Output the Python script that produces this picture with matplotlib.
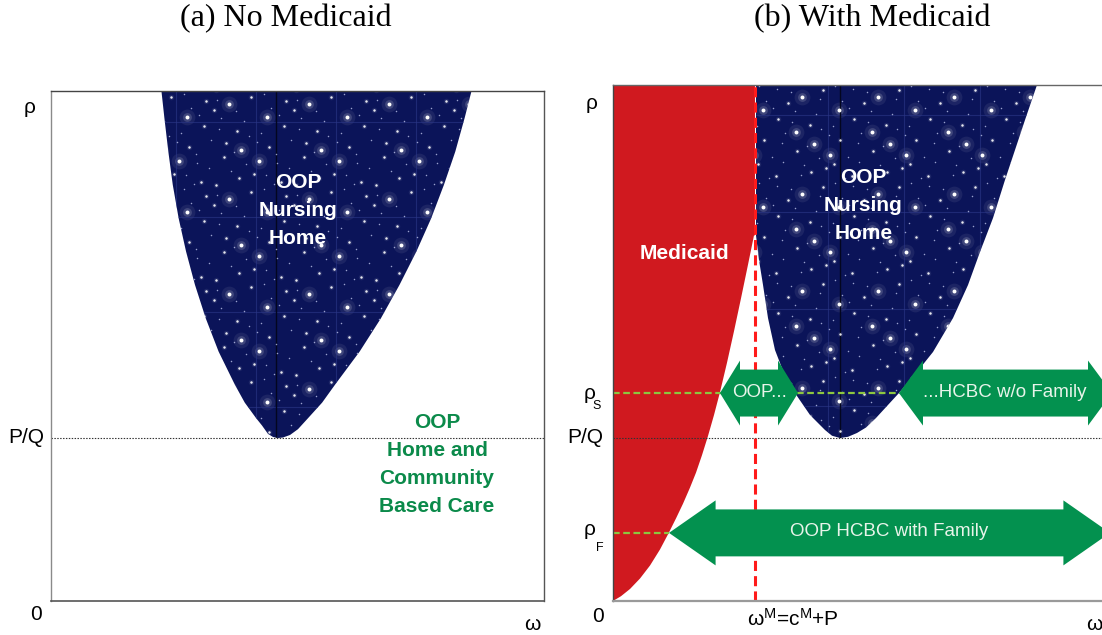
import numpy as np
import matplotlib
matplotlib.use("Agg")
import matplotlib.pyplot as plt
from matplotlib.patches import Polygon

plt.rcParams['font.family'] = ['Liberation Sans', 'DejaVu Sans']
plt.rcParams['mathtext.fontset'] = 'custom'
plt.rcParams['mathtext.rm'] = 'Liberation Sans'
plt.rcParams['mathtext.it'] = 'Liberation Sans:italic'
plt.rcParams['mathtext.bf'] = 'Liberation Sans:bold'

# ---------------------------------------------------------------- data
titles = ["(a) No Medicaid", "(b) With Medicaid"]

# Panel (a): boundary of the out-of-pocket nursing-home region (omega, rho)
nh_a_left_x = [0.224, 0.230, 0.238, 0.247, 0.259, 0.274, 0.292, 0.314, 0.340,
               0.373, 0.393, 0.4158, 0.4280, 0.4402, 0.4503, 0.4604]
nh_a_left_y = [1.000, 0.947, 0.881, 0.816, 0.750, 0.685, 0.620, 0.554, 0.489,
               0.424, 0.389, 0.3588, 0.3441, 0.3276, 0.3216, 0.3196]
nh_a_right_x = [0.4706, 0.4848, 0.5010, 0.5213, 0.550, 0.576, 0.626, 0.669, 0.707,
                0.741, 0.771, 0.797, 0.820, 0.839, 0.853]
nh_a_right_y = [0.3206, 0.3255, 0.3369, 0.3584, 0.389, 0.424, 0.489, 0.554, 0.620,
                0.685, 0.750, 0.816, 0.881, 0.947, 1.000]
pq_a = 0.32

# Panel (b)
omega_M = 0.288
pq_b = 0.316
rho_S = 0.403
rho_F = 0.132
med_x = [0.0, 0.0162, 0.0345, 0.0548, 0.0751, 0.0953, 0.1136, 0.1278, 0.1420,
         0.1562, 0.1684, 0.1805, 0.1927, 0.2049, 0.2170, 0.2312, 0.2454, 0.2596,
         0.2738, 0.2860]
med_y = [0.0, 0.0093, 0.0233, 0.0436, 0.0688, 0.0998, 0.1329, 0.1601, 0.1886,
         0.2198, 0.2488, 0.2826, 0.3198, 0.3605, 0.4047, 0.4616, 0.5227, 0.5864,
         0.6516, 0.7085]
nh_b_left_x = [0.2901, 0.2901, 0.2961, 0.3043, 0.3144, 0.3286, 0.3489, 0.3732,
               0.3996, 0.4300, 0.4442, 0.4604]
nh_b_left_y = [1.0, 0.7085, 0.6609, 0.6124, 0.5484, 0.4864, 0.4360, 0.3973,
               0.3605, 0.3314, 0.3203, 0.3159]
nh_b_right_x = [0.4767, 0.4949, 0.5132, 0.5335, 0.5801, 0.6166, 0.6491, 0.6897,
                0.7201, 0.7444, 0.7708, 0.7951, 0.8154, 0.8357, 0.8600]
nh_b_right_y = [0.3182, 0.3256, 0.3362, 0.3547, 0.4031, 0.4438, 0.4826, 0.5484,
                0.6124, 0.6764, 0.7422, 0.8159, 0.8740, 0.9322, 1.0]

band_labels = ["OOP...", "...HCBC w/o Family", "OOP HCBC with Family"]
band_rho = [rho_S, rho_S, rho_F]
band_from = [0.2170, 0.5801, 0.1136]
band_to = [0.3753, 1.0122, 1.0081]

# ---------------------------------------------------------------- styles
NAVY = '#0b1459'
RED_FILL = '#d0191f'
RED_LINE = '#ff1a1a'
GREEN = '#03914f'
GREEN_TXT = '#0b8a4a'
GREEN_DASH = '#8dc63f'
ARROW_TXT = '#e8f4ea'
LBL = 15


def halton(n, base, start=1):
    out = []
    for i in range(start, start + n):
        f, r, k = 1.0, 0.0, i
        while k > 0:
            f /= base
            r += f * (k % base)
            k //= base
        out.append(r)
    return np.array(out)


def star_texture(ax, patch, x0, y0, tw, th, vline_x, seed_start):
    n = 36
    u = halton(n, 2, seed_start)
    v = halton(n, 3, seed_start)
    w = halton(n, 5, seed_start + 3)
    xs, ys, ws = [], [], []
    for i in range(-int(x0 / tw) - 2, int((1 - x0) / tw) + 3):
        for j in range(-int(y0 / th) - 2, int((1 - y0) / th) + 3):
            xs.append(x0 + (i + u) * tw)
            ys.append(y0 + (j + v) * th)
            ws.append(w)
    xs = np.concatenate(xs); ys = np.concatenate(ys); ws = np.concatenate(ws)
    tiny = ws < 0.55
    small = (ws >= 0.55) & (ws < 0.86)
    big = ws >= 0.86
    arts = []
    arts.append(ax.scatter(xs[big], ys[big], s=130, c='white', alpha=0.07, lw=0, zorder=1.5))
    arts.append(ax.scatter(xs[big], ys[big], s=40, c='white', alpha=0.16, lw=0, zorder=1.5))
    arts.append(ax.scatter(xs[big], ys[big], s=8, c='white', alpha=1.0, lw=0, zorder=1.6))
    arts.append(ax.scatter(xs[small], ys[small], s=16, c='white', alpha=0.08, lw=0, zorder=1.5))
    arts.append(ax.scatter(xs[small], ys[small], s=3.2, c='white', alpha=0.9, lw=0, zorder=1.6))
    arts.append(ax.scatter(xs[tiny], ys[tiny], s=1.2, c='#d6dcff', alpha=0.7, lw=0, zorder=1.6))
    for k in range(-10, 12):
        xv = x0 + k * tw
        if 0 < xv < 1:
            arts.append(ax.axvline(xv, color='#2c3888', lw=0.8, alpha=0.6, zorder=1.55))
        yh = y0 + k * th
        if 0 < yh < 1:
            arts.append(ax.axhline(yh, color='#2c3888', lw=0.8, alpha=0.6, zorder=1.55))
    arts.append(ax.axvline(vline_x, color='#03061f', lw=1.0, zorder=1.55))
    for a in arts:
        a.set_clip_path(patch)


def double_arrow(ax, x0, x1, yc, hl, bh, hh, color):
    verts = [(x0, yc), (x0 + hl, yc + hh), (x0 + hl, yc + bh), (x1 - hl, yc + bh),
             (x1 - hl, yc + hh), (x1, yc), (x1 - hl, yc - hh), (x1 - hl, yc - bh),
             (x0 + hl, yc - bh), (x0 + hl, yc - hh)]
    ax.add_patch(Polygon(verts, closed=True, fc=color, ec='none', zorder=5, clip_on=False))


W, H = 1102, 635
fig = plt.figure(figsize=(W / 100, H / 100), dpi=100)
axA = fig.add_axes([51 / W, (H - 601) / H, 493 / W, 510 / H])
axB = fig.add_axes([613 / W, (H - 601) / H, 493 / W, 516 / H])
for ax in (axA, axB):
    ax.set_xlim(0, 1)
    ax.set_ylim(0, 1)
    ax.set_xticks([])
    ax.set_yticks([])
    ax.set_facecolor('white')

# spines
axA.spines['left'].set_color('#8a8a8a'); axA.spines['left'].set_linewidth(1.0)
axA.spines['top'].set_color('#444444'); axA.spines['top'].set_linewidth(1.0)
axA.spines['right'].set_color('#555555'); axA.spines['right'].set_linewidth(1.0)
axA.spines['bottom'].set_color('#555555'); axA.spines['bottom'].set_linewidth(1.2)
axB.spines['left'].set_color('#444444'); axB.spines['left'].set_linewidth(1.0)
axB.spines['top'].set_color('#666666'); axB.spines['top'].set_linewidth(1.0)
axB.spines['bottom'].set_color('#9a9a9a'); axB.spines['bottom'].set_linewidth(1.6)
axB.spines['right'].set_visible(False)
for sp in list(axA.spines.values()) + list(axB.spines.values()):
    sp.set_zorder(7)

# ---------------- panel (a)
polyA = list(zip(nh_a_left_x, nh_a_left_y)) + list(zip(nh_a_right_x, nh_a_right_y))
patchA = Polygon(polyA, closed=True, fc=NAVY, ec='none', zorder=1)
axA.add_patch(patchA)
star_texture(axA, patchA, (176 - 51) / 493, (601 - 122) / 510, 80 / 493, 95 / 510,
             (276 - 51) / 493, 1)
axA.axhline(pq_a, color='#333333', lw=0.8, ls=(0, (1.3, 1.3)), zorder=3)
axA.text(0.501, 0.765, "OOP\nNursing\nHome", color='white', fontsize=15,
         fontweight='bold', ha='center', va='center', linespacing=1.6, zorder=6)
axA.text(0.783, 0.2667, "OOP\nHome and\nCommunity\nBased Care", color=GREEN_TXT,
         fontsize=15, fontweight='bold', ha='center', va='center', linespacing=1.6,
         zorder=6)
axA.text(-0.0426, 0.9667, "ρ", fontsize=LBL, ha='center', va='center')
axA.text(-0.0142, pq_a, "P/Q", fontsize=LBL, ha='right', va='center')
axA.text(-0.0304, -0.0255, "0", fontsize=LBL, ha='center', va='center')
axA.text(0.9767, -0.0451, "ω", fontsize=LBL, ha='center', va='center')

# ---------------- panel (b)
polyMed = list(zip(med_x, med_y)) + [(omega_M, med_y[-1]), (omega_M, 1.0), (0.0, 1.0)]
axB.add_patch(Polygon(polyMed, closed=True, fc=RED_FILL, ec='none', zorder=1))
polyB = list(zip(nh_b_left_x, nh_b_left_y)) + list(zip(nh_b_right_x, nh_b_right_y))
patchB = Polygon(polyB, closed=True, fc=NAVY, ec='none', zorder=1)
axB.add_patch(patchB)
star_texture(axB, patchB, (828 - 613) / 493, (601 - 115) / 516, 76 / 493, 97 / 516,
             (840 - 613) / 493, 7)

axB.axhline(pq_b, color='#333333', lw=0.8, ls=(0, (1.3, 1.3)), zorder=3)
axB.axhline(rho_S, color=GREEN_DASH, lw=1.6, ls=(0, (3, 1.6)), zorder=3)
axB.plot([0, band_from[2]], [rho_F, rho_F], color=GREEN_DASH, lw=1.6,
         ls=(0, (3, 1.6)), zorder=3)
axB.axvline(omega_M, color=RED_LINE, lw=2.2, ls=(0, (3.3, 1.7)), zorder=4)

head_len = [0.0406, 0.0487, 0.0945]
body_half = 0.0455
head_half = 0.063
band_text_x = [0.2972, 0.7946, 0.5609]
for lab, r, a, b, hl, tx in zip(band_labels, band_rho, band_from, band_to, head_len,
                                band_text_x):
    double_arrow(axB, a, b, r, hl, body_half, head_half, GREEN)
    axB.text(tx, r + 0.002, lab, color=ARROW_TXT, fontsize=13.5, ha='center',
             va='center', zorder=6)

axB.text(0.1454, 0.674, "Medicaid", color='white', fontsize=15, fontweight='bold',
         ha='center', va='center', zorder=6)
axB.text(0.508, 0.767, "OOP\nNursing\nHome", color='white', fontsize=15,
         fontweight='bold', ha='center', va='center', linespacing=1.6, zorder=6)

axB.text(-0.0426, 0.965, "ρ", fontsize=LBL, ha='center', va='center')
axB.text(-0.0467, rho_S, "ρ", fontsize=LBL, ha='center', va='center')
axB.text(-0.0325, 0.378, "S", fontsize=9, ha='center', va='center')
axB.text(-0.0203, pq_b, "P/Q", fontsize=LBL, ha='right', va='center')
axB.text(-0.0467, 0.1376, "ρ", fontsize=LBL, ha='center', va='center')
axB.text(-0.0264, 0.1027, "F", fontsize=9, ha='center', va='center')
axB.text(-0.0304, -0.031, "0", fontsize=LBL, ha='center', va='center')
axB.text(0.271, -0.035, r"ω$^{\mathrm{M}}$=c$^{\mathrm{M}}$+P", fontsize=LBL,
         ha='left', va='center')
axB.text(0.9757, -0.0446, "ω", fontsize=LBL, ha='center', va='center')

fig.text(286 / W, 1 - 19 / H, titles[0], fontsize=23, family='Liberation Serif',
         ha='center', va='center')
fig.text(872 / W, 1 - 19 / H, titles[1], fontsize=23, family='Liberation Serif',
         ha='center', va='center')

fig.savefig("out.png", dpi=100)
